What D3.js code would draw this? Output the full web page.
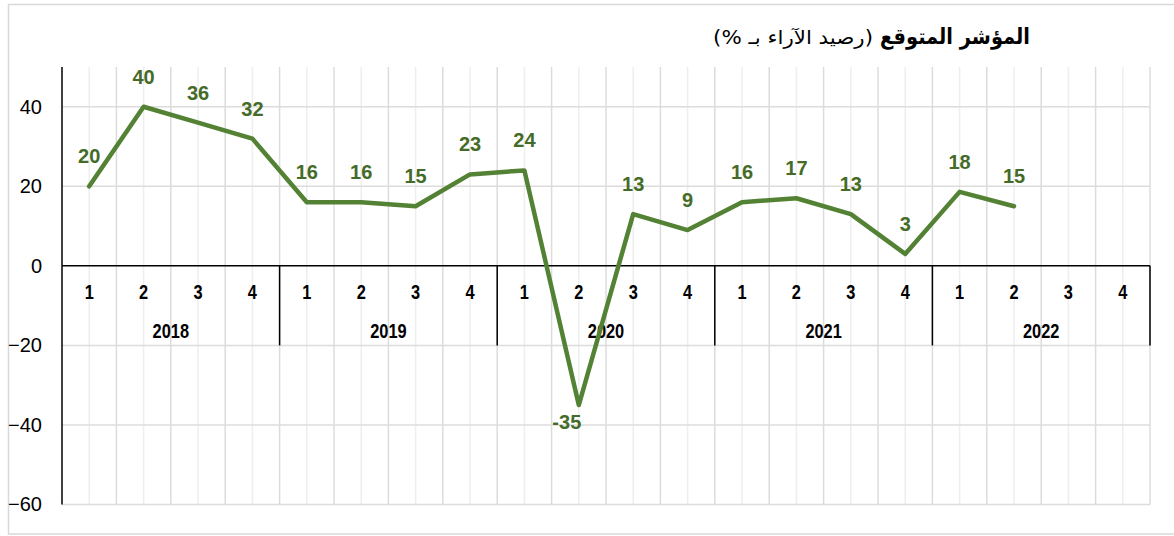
<!DOCTYPE html>
<html>
<head>
<meta charset="utf-8">
<script src="https://cdn.jsdelivr.net/npm/d3@7"></script>
<style>
  body { margin: 0; background: #fff; }
  svg { display: block; }
</style>
</head>
<body>
<div id="chart"></div>
<script>
// data
const years = ["2018", "2019", "2020", "2021", "2022"];
const quarters = ["1", "2", "3", "4"];
const values = [
    20, 40, 36, 32,
    16, 16, 15, 23,
    24, -35, 13, 9,
    16, 17, 13, 3,
    18.6, 15, null, null
];
const yTicks = [-60, -40, -20, 0, 20, 40];
const titleBold = "المؤشر المتوقع";
const titleNormal = "\u200F(رصيد الآراء بـ %)\u200F";

const width = 1174, height = 536;
const margin = {top: 67, right: 24, bottom: 31.5, left: 62};
const lineColor = "#548235";
const labelColor = "#456b28";
const latin = "'Liberation Sans', Arial, sans-serif";
const arabic = "'DejaVu Sans', sans-serif";

const svg = d3.select("#chart").append("svg")
    .attr("width", width)
    .attr("height", height);

// outer frame
svg.append("rect")
    .attr("x", 8.5).attr("y", 4.5)
    .attr("width", 1170).attr("height", 529.5)
    .attr("fill", "none")
    .attr("stroke", "#d9d9d9")
    .attr("stroke-width", 1.5);

// one band per quarter
const cats = [];
years.forEach(y => quarters.forEach(q => cats.push(y + "-" + q)));

const x = d3.scaleBand()
    .domain(cats)
    .range([margin.left, width - margin.right])
    .padding(0);

const y = d3.scaleLinear()
    .domain([-60, 50])
    .range([height - margin.bottom, margin.top]);

const g = svg.append("g");

// vertical grid: boundaries darker, centers lighter
const bw = x.bandwidth();
g.append("g").selectAll("line")
    .data(cats)
    .join("line")
    .attr("x1", d => x(d) + bw / 2).attr("x2", d => x(d) + bw / 2)
    .attr("y1", y(50)).attr("y2", y(-60))
    .attr("stroke", "#eeeeee").attr("stroke-width", 1.5);

g.append("g").selectAll("line")
    .data(cats.slice(1).concat(["end"]))
    .join("line")
    .attr("x1", d => d === "end" ? x.range()[1] : x(d))
    .attr("x2", d => d === "end" ? x.range()[1] : x(d))
    .attr("y1", y(50)).attr("y2", y(-60))
    .attr("stroke", "#dcdcdc").attr("stroke-width", 1.5);

// horizontal grid
g.append("g").selectAll("line")
    .data(yTicks.filter(t => t !== 0))
    .join("line")
    .attr("x1", margin.left).attr("x2", x.range()[1])
    .attr("y1", d => y(d)).attr("y2", d => y(d))
    .attr("stroke", "#dcdcdc").attr("stroke-width", 1.5);

// y axis
const yAxis = g.append("g")
    .attr("transform", `translate(${margin.left},0)`)
    .call(d3.axisLeft(y).tickValues(yTicks).tickSize(0).tickPadding(20));
yAxis.select(".domain").attr("stroke", "#000").attr("stroke-width", 1.5)
    .attr("d", `M0,${y(50)}V${y(-60)}`);
yAxis.selectAll("text")
    .style("font-family", latin)
    .style("font-size", "20px")
    .attr("fill", "#000");

// zero line
g.append("line")
    .attr("x1", margin.left).attr("x2", x.range()[1])
    .attr("y1", y(0)).attr("y2", y(0))
    .attr("stroke", "#000").attr("stroke-width", 1.5);

// year separators
const sepX = years.map(yr => x(yr + "-1")).concat([x.range()[1]]);
g.append("g").selectAll("line")
    .data(sepX.slice(1))
    .join("line")
    .attr("x1", d => d).attr("x2", d => d)
    .attr("y1", y(0)).attr("y2", y(-20))
    .attr("stroke", "#000").attr("stroke-width", 1.5);

// category labels (narrow bold look: squeeze Liberation Sans Bold)
const squeeze = 0.82;

g.append("g").selectAll("text")
    .data(cats)
    .join("text")
    .attr("transform", d => `translate(${x(d) + bw / 2},${y(0) + 33}) scale(${squeeze},1)`)
    .attr("text-anchor", "middle")
    .style("font-family", latin)
    .style("font-weight", "bold")
    .style("font-size", "20px")
    .text(d => d.split("-")[1]);

g.append("g").selectAll("text")
    .data(years)
    .join("text")
    .attr("transform", d => `translate(${x(d + "-1") + bw * 2},${y(0) + 72}) scale(${squeeze},1)`)
    .attr("text-anchor", "middle")
    .style("font-family", latin)
    .style("font-weight", "bold")
    .style("font-size", "20px")
    .text(d => d);

// the line
const pts = cats.map((c, i) => ({c: c, v: values[i]})).filter(d => d.v !== null);

const line = d3.line()
    .x(d => x(d.c) + bw / 2)
    .y(d => y(d.v));

g.append("path")
    .datum(pts)
    .attr("d", line)
    .attr("fill", "none")
    .attr("stroke", lineColor)
    .attr("stroke-width", 4.5)
    .attr("stroke-linejoin", "round")
    .attr("stroke-linecap", "round");

// data labels
g.append("g").selectAll("text")
    .data(pts)
    .join("text")
    .attr("x", d => x(d.c) + bw / 2 + (d.v < 0 ? -12 : 0))
    .attr("y", d => d.v < 0 ? y(d.v) + 24 : y(d.v) - 23)
    .attr("text-anchor", "middle")
    .style("font-family", latin)
    .style("font-weight", "bold")
    .style("font-size", "20px")
    .attr("fill", labelColor)
    .text(d => Math.trunc(d.v));

// title (two parts, right aligned, widened to the reference's Arial Arabic)
const titleRight = 1030;
const boldW = 150, normalW = 160, gap = 7;
const tB = svg.append("text")
    .style("font-family", arabic)
    .style("font-weight", "bold")
    .style("font-size", "22px")
    .attr("text-anchor", "end")
    .text(titleBold);
const bLen = tB.node().getComputedTextLength();
tB.attr("transform", `translate(${titleRight},44) scale(${boldW / bLen},1)`);

const tN = svg.append("text")
    .style("font-family", arabic)
    .style("font-size", "19px")
    .attr("text-anchor", "end")
    .text(titleNormal);
const nLen = tN.node().getComputedTextLength();
tN.attr("transform", `translate(${titleRight - boldW - gap},44) scale(${normalW / nLen},1)`);
</script>
</body>
</html>
